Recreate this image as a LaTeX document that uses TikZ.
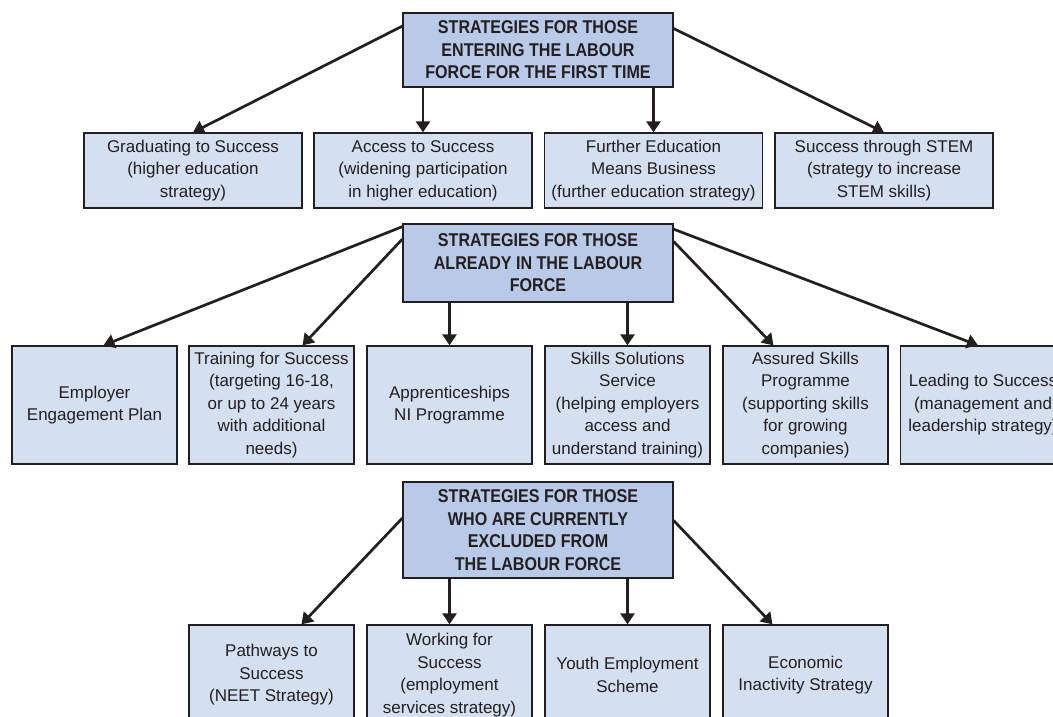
\documentclass[tikz,border=0pt]{standalone}
\usepackage{fontspec}
\setmainfont{Liberation Sans}
\newfontfamily\headfont{Liberation Sans}[FakeStretch=0.87]
\usetikzlibrary{arrows.meta}

\definecolor{headblue}{RGB}{185,201,232}
\definecolor{boxblue}{RGB}{212,223,240}
\definecolor{inkgray}{RGB}{35,31,32}

\begin{document}
\begin{tikzpicture}[x=1pt, y=-1pt]

% Define styles
\tikzstyle{header} = [rectangle, draw=inkgray, line width=1.3pt, fill=headblue, text=inkgray, align=center, minimum width=270pt, inner sep=0pt, font=\headfont\bfseries\fontsize{18.5}{22.5}\selectfont]
\tikzstyle{wide} = [rectangle, draw=inkgray, line width=1.3pt, fill=boxblue, text=inkgray, align=center, minimum width=218pt, minimum height=75pt, inner sep=0pt, font=\fontsize{17}{22.5}\selectfont]
\tikzstyle{tall} = [wide, minimum width=165pt, minimum height=118pt]
\tikzstyle{short} = [wide, minimum width=165pt, minimum height=100pt]
\tikzstyle{link} = [line width=2.7pt, draw=inkgray, -{Triangle[length=11pt,width=14pt]}]

% Frame of the picture
\useasboundingbox (0,0) rectangle (1053,717);
\clip (0,0) rectangle (1053,717);

% Strategy headers
\node [header, minimum height=74pt] (entering) at (538,50) {STRATEGIES FOR THOSE\\ENTERING THE LABOUR\\FORCE FOR THE FIRST TIME};
\node [header, minimum height=78pt] (already) at (538,263) {STRATEGIES FOR THOSE\\ALREADY IN THE LABOUR\\FORCE};
\node [header, minimum height=96pt] (excluded) at (538,530) {STRATEGIES FOR THOSE\\WHO ARE CURRENTLY\\EXCLUDED FROM\\THE LABOUR FORCE};

% First time in the labour force
\node [wide] (grad) at (193,170.5) {Graduating to Success\\(higher education\\strategy)};
\node [wide] (access) at (423,170.5) {Access to Success\\(widening participation\\in higher education)};
\node [wide] (further) at (653.5,170.5) {Further Education\\Means Business\\(further education strategy)};
\node [wide] (stem) at (884,170.5) {Success through STEM\\(strategy to increase\\STEM skills)};

% Already in the labour force
\node [tall] (employer) at (94.5,405) {Employer\\Engagement Plan};
\node [tall] (training) at (271.5,405) {Training for Success\\(targeting 16-18,\\or up to 24 years\\with additional\\needs)};
\node [tall] (apprent) at (449.5,405) {Apprenticeships\\NI Programme};
\node [tall] (solutions) at (627.5,405) {Skills Solutions\\Service\\(helping employers\\access and\\understand training)};
\node [tall] (assured) at (805.5,405) {Assured Skills\\Programme\\(supporting skills\\for growing\\companies)};
\node [tall] (leading) at (983,405) {Leading to Success\\(management and\\leadership strategy)};

% Currently excluded
\node [short] (pathways) at (271.5,675) {Pathways to\\Success\\(NEET Strategy)};
\node [short] (working) at (449.5,675) {Working for\\Success\\(employment\\services strategy)};
\node [short] (youth) at (627.5,675) {Youth Employment\\Scheme};
\node [short] (inactive) at (805.5,675) {Economic\\Inactivity Strategy};

% Arrows from the first header
\draw [link] (entering.170.7) -- (grad.north);
\draw [link] (entering.south -| access.north) -- (access.north);
\draw [link] (entering.south -| further.north) -- (further.north);
\draw [link] (entering.9.3) -- (stem.north);

% Arrows from the second header
\draw [link] (already.165.9) -- ([xshift=9pt]employer.north);
\draw [link] (already.170.7) -- ([xshift=31pt]training.north);
\draw [link] (already.south -| apprent.north) -- (apprent.north);
\draw [link] (already.south -| solutions.north) -- (solutions.north);
\draw [link] (already.9.3) -- ([xshift=-32pt]assured.north);
\draw [link] (already.14.1) -- ([xshift=-5pt]leading.north);

% Arrows from the third header
\draw [link] (excluded.175.8) -- ([xshift=30pt]pathways.north);
\draw [link] (excluded.south -| working.north) -- (working.north);
\draw [link] (excluded.south -| youth.north) -- (youth.north);
\draw [link] (excluded.4.2) -- ([xshift=-33pt]inactive.north);

\end{tikzpicture}
\end{document}
